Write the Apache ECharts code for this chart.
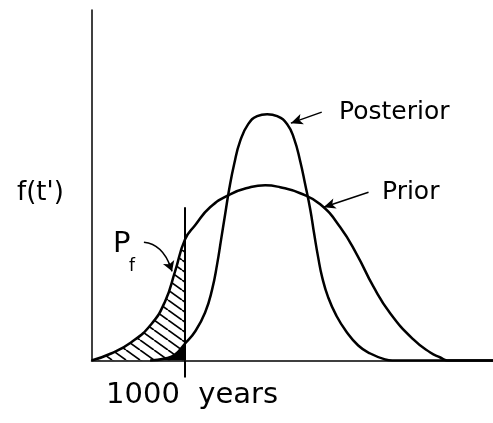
<!DOCTYPE html>
<html>
<head>
<meta charset="utf-8">
<script src="https://cdn.jsdelivr.net/npm/echarts@6/dist/echarts.min.js"></script>
<style>
  html, body { margin: 0; padding: 0; background: #fff; }
  #chart { width: 493px; height: 423px; }
</style>
</head>
<body>
<div id="chart"></div>
<script>
// x in hundreds of years (10 = 1000 years), y = density height (arbitrary units)
const priorX = [0, 2.09, 4.22, 6.36, 7.86, 8.93, 10, 11.07, 12.67, 14.81, 16.95, 18.56, 20.16, 22.3, 24.44, 26.58, 28.4, 30.11, 31.93, 34.39, 36.2, 37.27, 38.02, 42.9];
const priorY = [0, 7, 18, 36, 59, 89, 121, 135, 153, 166, 173, 175, 173, 167, 156, 133, 105, 74, 47, 21, 8, 3, 0, 0];

const postX = [6.26, 7.86, 8.93, 10, 11.07, 12.14, 12.89, 13.42, 13.85, 14.28, 14.71, 15.24, 15.88, 16.74, 17.7, 18.77, 19.84, 20.91, 21.66, 22.3, 22.83, 23.37, 23.8, 24.22, 24.65, 25.29, 26.15, 27.22, 28.5, 29.79, 31.39, 32.14, 42.9];
const postY = [0, 2, 6, 17, 29, 48, 71, 96, 121, 146, 171, 196, 219, 236, 244, 246, 244, 236, 221, 199, 176, 151, 126, 103, 83, 63, 45, 29, 15, 7, 1, 0, 0];

const failYears = 10;      // 1000 years
const failLineTop = 153;   // top of the vertical marker

const pairs = (xs, ys) => xs.map((x, i) => [x, ys[i]]);
const upTo = (xs, ys, lim) => pairs(xs, ys).filter((p) => p[0] <= lim);

// hatch pattern for P_f
const hatch = document.createElement('canvas');
hatch.width = 14; hatch.height = 10;
const hc = hatch.getContext('2d');
hc.strokeStyle = '#000';
hc.lineWidth = 1.7;
for (let k = -1; k <= 1; k++) {
  hc.beginPath();
  hc.moveTo(k * 14, 0);
  hc.lineTo(k * 14 + 14, 10);
  hc.stroke();
}

const chart = echarts.init(document.getElementById('chart'));
const font = '"DejaVu Sans", sans-serif';
const arrowLine = { color: '#000', width: 1.5, type: 'solid' };

const option = {
  animation: false,
  backgroundColor: '#fff',
  grid: { left: 91.5, right: 0, top: 10, bottom: 62.5 },
  xAxis: {
    type: 'value',
    min: 0,
    max: 42.9,
    axisLine: { lineStyle: { color: '#000', width: 1.5 } },
    axisTick: { show: true, customValues: [failYears], length: 17, lineStyle: { color: '#000', width: 2 } },
    axisLabel: {
      customValues: [failYears],
      formatter: () => '1000  years',
      color: '#000',
      fontSize: 29,
      fontFamily: font,
      margin: 20,
      padding: [0, 0, 0, 14],
    },
    splitLine: { show: false },
  },
  yAxis: {
    type: 'value',
    min: 0,
    max: 350,
    axisLine: { show: true, lineStyle: { color: '#000', width: 1.5 } },
    axisTick: { show: false },
    axisLabel: { show: false },
    splitLine: { show: false },
  },
  series: [
    {
      name: 'Pf',
      type: 'line',
      data: upTo(priorX, priorY, failYears),
      smooth: 0.5,
      symbol: 'none',
      lineStyle: { width: 0 },
      areaStyle: { color: { image: hatch, repeat: 'repeat' }, opacity: 1 },
      markLine: {
        silent: true,
        symbol: ['none', 'arrow'],
        symbolSize: [9, 10],
        label: { show: false },
        lineStyle: arrowLine,
        data: [[{ coord: [8.29, 97] }, { coord: [8.61, 89] }]],
      },
    },
    {
      name: 'Pf posterior',
      type: 'line',
      data: upTo(postX, postY, failYears),
      smooth: 0.5,
      symbol: 'none',
      lineStyle: { width: 0 },
      areaStyle: { color: '#000', opacity: 1 },
    },
    {
      name: 'Prior',
      type: 'line',
      data: pairs(priorX, priorY),
      smooth: 0.5,
      symbol: 'none',
      lineStyle: { color: '#000', width: 2.5 },
      markLine: {
        silent: true,
        symbol: ['none', 'none'],
        label: { show: false },
        lineStyle: { color: '#000', width: 2, type: 'solid' },
        data: [[{ coord: [failYears, 0] }, { coord: [failYears, failLineTop] }]],
      },
    },
    {
      name: 'Posterior',
      type: 'line',
      data: pairs(postX, postY),
      smooth: 0.5,
      symbol: 'none',
      lineStyle: { color: '#000', width: 2.5 },
      markLine: {
        silent: true,
        symbol: ['none', 'arrow'],
        symbolSize: [8, 12],
        label: { show: false },
        lineStyle: arrowLine,
        data: [
          [{ coord: [24.6, 248] }, { coord: [21.3, 237] }],
          [{ coord: [29.6, 168] }, { coord: [24.8, 153] }],
        ],
      },
    },
  ],
  graphic: [
    { id: 'ylab', type: 'text', x: 17, y: 193, style: { text: "f(t')", font: '26px ' + font, fill: '#000', verticalAlign: 'middle' } },
    { id: 'postlab', type: 'text', x: 339, y: 112, style: { text: 'Posterior', font: '25px ' + font, fill: '#000', verticalAlign: 'middle' } },
    { id: 'priorlab', type: 'text', x: 382, y: 192, style: { text: 'Prior', font: '25px ' + font, fill: '#000', verticalAlign: 'middle' } },
    { id: 'plab', type: 'text', x: 113, y: 244, style: { text: 'P', font: '29px ' + font, fill: '#000', verticalAlign: 'middle' } },
    { id: 'fsub', type: 'text', x: 129, y: 267, style: { text: 'f', font: '17px ' + font, fill: '#000', verticalAlign: 'middle' } },
  ],
};

chart.setOption(option);

// curved leader from the P_f label to the hatched area
const a = chart.convertToPixel({ gridIndex: 0 }, [5.6, 118]);
const c = chart.convertToPixel({ gridIndex: 0 }, [7.6, 116]);
const b = chart.convertToPixel({ gridIndex: 0 }, [8.45, 93]);
chart.setOption({
  graphic: [{
    id: 'pfleader',
    type: 'bezierCurve',
    shape: { x1: a[0], y1: a[1], x2: b[0], y2: b[1], cpx1: c[0], cpy1: c[1] },
    style: { stroke: '#000', lineWidth: 1.5, fill: null },
  }],
});
</script>
</body>
</html>
